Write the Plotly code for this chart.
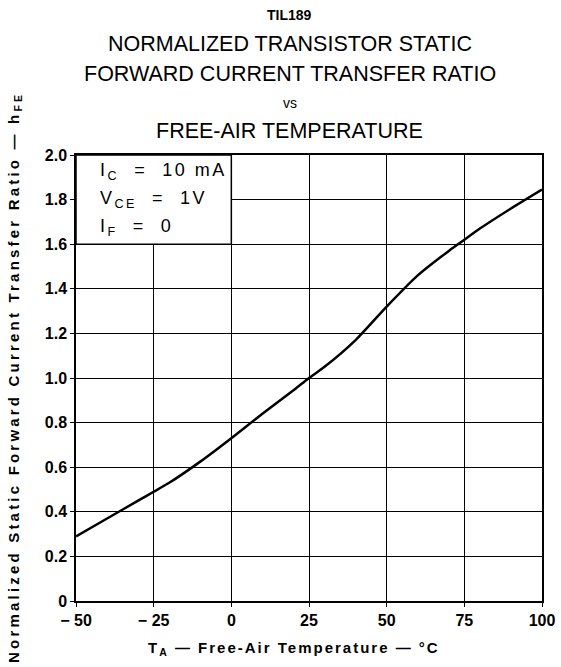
import plotly.graph_objects as go

# Data
temperature_c = [-50, -40, -30, -25, -20, -10, 0, 10, 20, 25, 30, 40, 50, 60, 70, 75, 80, 90, 100]
hfe_norm = [0.29, 0.37, 0.45, 0.49, 0.53, 0.625, 0.73, 0.84, 0.945, 1.0, 1.05, 1.17, 1.32, 1.46, 1.57, 1.62, 1.67, 1.76, 1.845]

x_ticks = [-50, -25, 0, 25, 50, 75, 100]
x_tick_labels = ["\u2212 50", "\u2212 25", "0", "25", "50", "75", "100"]
y_ticks = [0, 0.2, 0.4, 0.6, 0.8, 1.0, 1.2, 1.4, 1.6, 1.8, 2.0]
y_tick_labels = ["0", "0.2", "0.4", "0.6", "0.8", "1.0", "1.2", "1.4", "1.6", "1.8", "2.0"]

conditions = ["I<sub>C</sub>  =  10 mA", "V<sub>CE</sub>  =  1V", "I<sub>F</sub>  =  0"]

FONT = "Liberation Sans, Arial, Helvetica, sans-serif"

fig = go.Figure()
fig.add_trace(go.Scatter(
    x=temperature_c, y=hfe_norm, mode="lines",
    line=dict(color="black", width=2.5, shape="spline", smoothing=0.6),
    showlegend=False, hoverinfo="skip",
))

axis_common = dict(
    showgrid=True, gridcolor="black", gridwidth=1,
    showline=True, linecolor="black", linewidth=1.5, mirror=True,
    ticks="outside", ticklen=4, tickcolor="black",
    zeroline=False, automargin=False,
    tickfont=dict(family=FONT, size=16, color="black", weight="bold"),
)

fig.update_xaxes(range=[-50, 100], tickvals=x_ticks, ticktext=x_tick_labels, **axis_common)
fig.update_yaxes(range=[0, 2.0], tickvals=y_ticks, ticktext=y_tick_labels, **axis_common)

# white box holding the test conditions (covers grid lines in upper-left cell block)
fig.add_shape(type="rect", xref="x", yref="y", x0=-50, x1=0, y0=1.6, y1=2.0,
              fillcolor="white", line=dict(color="black", width=1.5), layer="between")

for i, txt in enumerate(conditions):
    fig.add_annotation(x=-43, y=1.925 - i * 0.125, xref="x", yref="y",
                       text='<span style="letter-spacing:2.5px">' + txt + '</span>',
                       showarrow=False, xanchor="left", yanchor="middle",
                       font=dict(family=FONT, size=18, color="black"))

# Titles
title_cx = 0.459
titles = [
    ("<b>TIL189</b>", 140, 14),
    ("NORMALIZED TRANSISTOR STATIC", 111, 21.5),
    ("FORWARD CURRENT TRANSFER RATIO", 81, 21.5),
    ("vs", 52, 14),
    ("FREE-AIR TEMPERATURE", 24, 21.5),
]
for txt, ys, sz in titles:
    fig.add_annotation(x=title_cx, y=1.0, xref="paper", yref="paper", yshift=ys,
                       yanchor="middle", text=txt, showarrow=False,
                       font=dict(family=FONT, size=sz, color="black"))

# Axis titles
fig.add_annotation(x=0.468, y=0, xref="paper", yref="paper", yshift=-47, yanchor="middle",
                   text='<span style="letter-spacing:2px"><b>T<sub>A</sub> \u2014 Free-Air Temperature \u2014 \u00b0C</b></span>',
                   showarrow=False, font=dict(family=FONT, size=15, color="black"))
fig.add_annotation(x=0, y=0.5, xref="paper", yref="paper", xshift=-62, xanchor="center",
                   text='<span style="letter-spacing:3.2px"><b>Normalized Static Forward Current Transfer Ratio \u2014 h<sub>FE</sub></b></span>',
                   textangle=-90, showarrow=False,
                   font=dict(family=FONT, size=15, color="black"))

fig.update_layout(
    width=561, height=667, autosize=False,
    margin=dict(l=76, r=19, t=155, b=66, autoexpand=False),
    plot_bgcolor="white", paper_bgcolor="white",
    font=dict(family=FONT, color="black"),
)

fig.write_html("out.html", config={"displayModeBar": False},
               post_script="document.body.style.margin='0';")
